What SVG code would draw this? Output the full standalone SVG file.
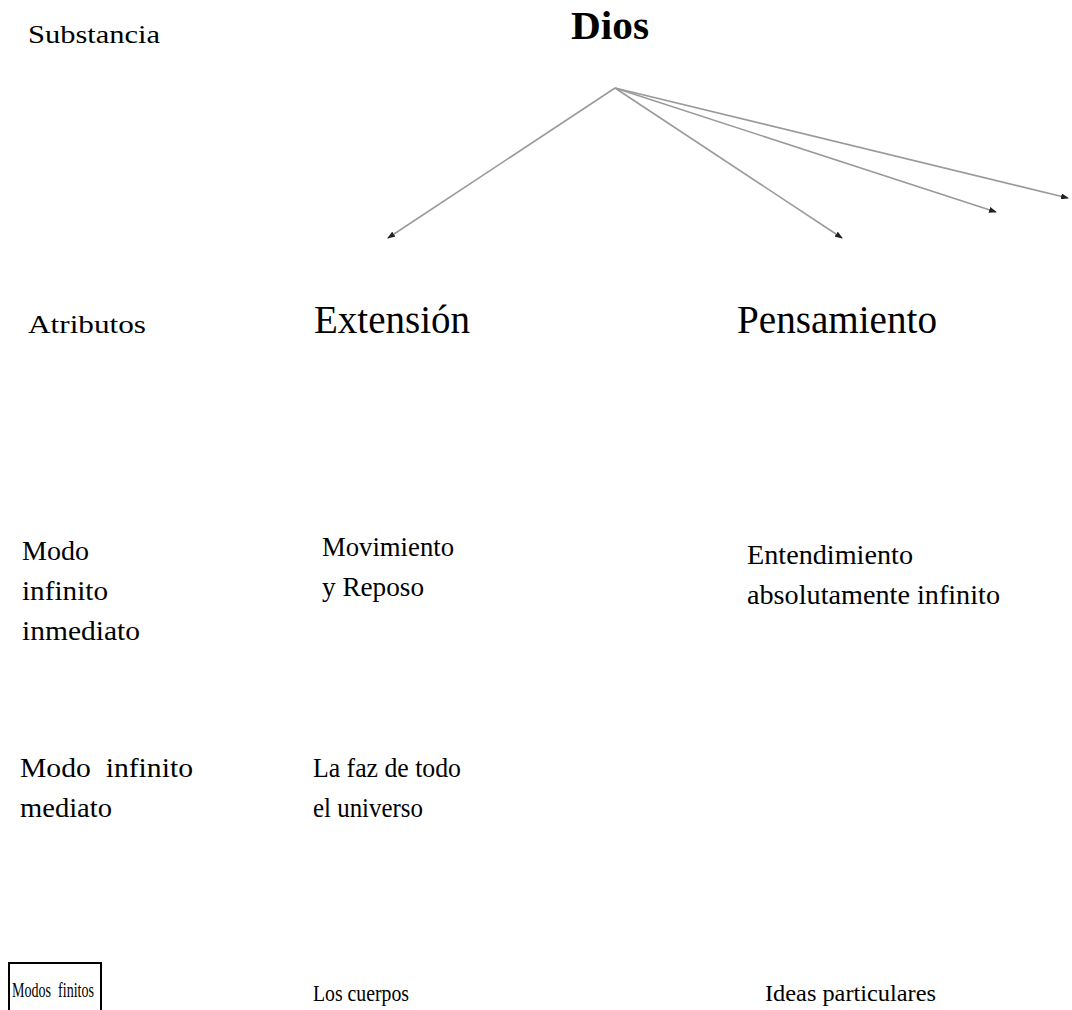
<svg xmlns="http://www.w3.org/2000/svg" width="1072" height="1010" viewBox="0 0 1072 1010">
<style>
text{font-family:"Liberation Serif","Times New Roman",serif;fill:#000}
.s{font-size:28px}
.t{font-size:24px}
.f{font-size:21px}
.m{font-size:25px}
.a{font-size:26px}
.l{font-size:40px}
.b{font-size:40px;font-weight:bold}
.c{stroke:#9a9a9a;stroke-width:1.6;fill:none;marker-end:url(#ah)}
</style>
<defs>
<marker id="ah" markerWidth="8" markerHeight="6" refX="7" refY="3" orient="auto" markerUnits="userSpaceOnUse">
<path d="M0,0 L8,3 L0,6 z" fill="#222"/>
</marker>
</defs>
<rect width="1072" height="1010" fill="#fff"/>
<g id="connectors">
<line class="c" x1="615" y1="88" x2="388" y2="238"/>
<line class="c" x1="615" y1="88" x2="842" y2="238"/>
<line class="c" x1="615" y1="88" x2="996" y2="212"/>
<line class="c" x1="615" y1="88" x2="1068" y2="198"/>
</g>
<g id="substancia"><text class="m" x="28" y="43" textLength="132" lengthAdjust="spacingAndGlyphs">Substancia</text></g>
<g id="dios"><text class="b" x="571" y="39" textLength="78" lengthAdjust="spacingAndGlyphs">Dios</text></g>
<g id="atributos"><text class="a" x="28" y="333" textLength="118" lengthAdjust="spacingAndGlyphs">Atributos</text></g>
<g id="extension"><text class="l" x="314" y="333" textLength="156" lengthAdjust="spacingAndGlyphs">Extensión</text></g>
<g id="pensamiento"><text class="l" x="737" y="333" textLength="200" lengthAdjust="spacingAndGlyphs">Pensamiento</text></g>
<g id="modo-inmediato">
<text class="s" x="22" y="560" textLength="67" lengthAdjust="spacingAndGlyphs">Modo</text>
<text class="s" x="22" y="600" textLength="86" lengthAdjust="spacingAndGlyphs">infinito</text>
<text class="s" x="22" y="640" textLength="118" lengthAdjust="spacingAndGlyphs">inmediato</text>
</g>
<g id="movimiento">
<text class="s" x="322" y="556" textLength="132" lengthAdjust="spacingAndGlyphs">Movimiento</text>
<text class="s" x="322" y="596" textLength="102" lengthAdjust="spacingAndGlyphs">y Reposo</text>
</g>
<g id="entendimiento">
<text class="s" x="747" y="564" textLength="166" lengthAdjust="spacingAndGlyphs">Entendimiento</text>
<text class="s" x="747" y="604" textLength="253" lengthAdjust="spacingAndGlyphs">absolutamente infinito</text>
</g>
<g id="modo-mediato">
<text class="s" x="20" y="777" textLength="173" lengthAdjust="spacingAndGlyphs" xml:space="preserve">Modo  infinito</text>
<text class="s" x="20" y="817" textLength="92" lengthAdjust="spacingAndGlyphs">mediato</text>
</g>
<g id="faz">
<text class="s" x="313" y="777" textLength="148" lengthAdjust="spacingAndGlyphs">La faz de todo</text>
<text class="s" x="313" y="817" textLength="110" lengthAdjust="spacingAndGlyphs">el universo</text>
</g>
<g id="modos-finitos">
<path d="M9,1010 V963 H101 V1010" fill="none" stroke="#000" stroke-width="2"/>
<text class="f" x="12" y="997" textLength="82" lengthAdjust="spacingAndGlyphs" xml:space="preserve">Modos  finitos</text>
</g>
<g id="cuerpos"><text class="t" x="313" y="1001" textLength="96" lengthAdjust="spacingAndGlyphs">Los cuerpos</text></g>
<g id="ideas"><text class="t" x="765" y="1001" textLength="171" lengthAdjust="spacingAndGlyphs">Ideas particulares</text></g>
</svg>
